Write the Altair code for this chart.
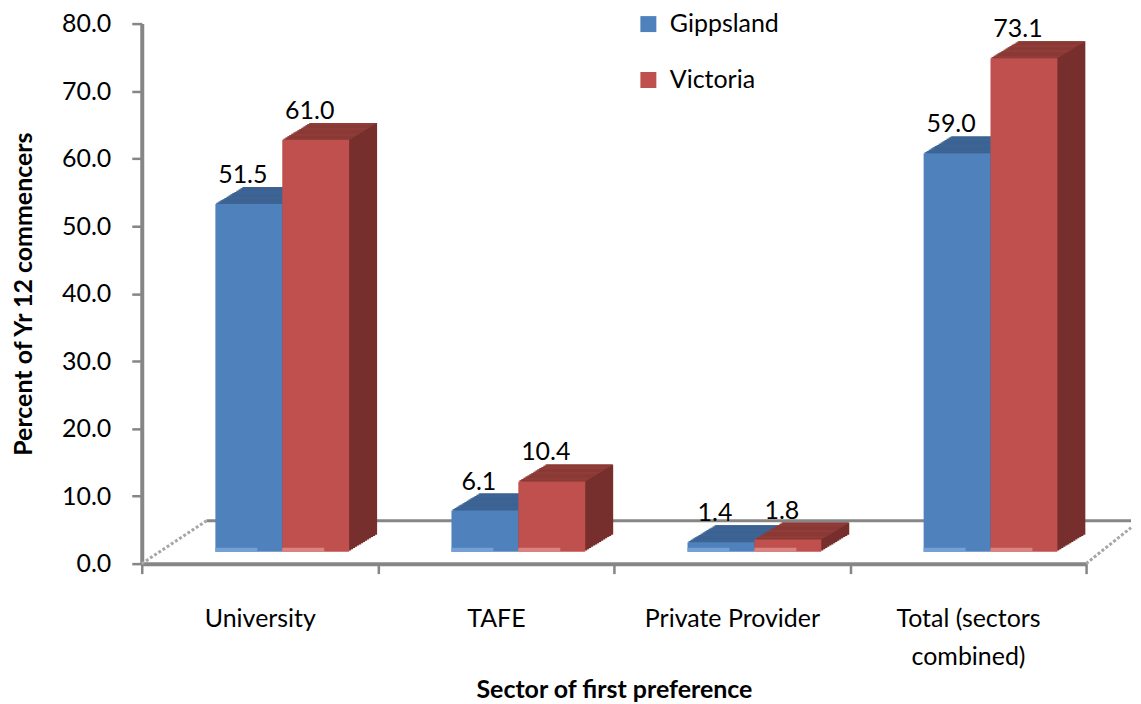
import altair as alt
import pandas as pd

categories = ["University", "TAFE", "Private Provider", "Total (sectors combined)"]
series_names = ["Gippsland", "Victoria"]
gippsland = [51.5, 6.1, 1.4, 59.0]
victoria = [61.0, 10.4, 1.8, 73.1]
y_ticks = [0, 10, 20, 30, 40, 50, 60, 70, 80]

rows = []
for c, g, v in zip(categories, gippsland, victoria):
    rows.append({"sector": c, "series": "Gippsland", "value": g})
    rows.append({"sector": c, "series": "Victoria", "value": v})
df = pd.DataFrame(rows)

W, H = 946, 541
FONT = "Lato"
FS = 25
GRAY = "#868686"

front_col = {"Gippsland": "#4F81BD", "Victoria": "#C0504D"}
shine_col = {"Gippsland": "#74A0D6", "Victoria": "#D98481"}
top_col = {"Gippsland": "#3C6494", "Victoria": "#903C39"}
side_col = {"Gippsland": "#385D8A", "Victoria": "#772F2D"}
bar_dx = {"Gippsland": -11, "Victoria": 56}
lab_dx = {"Gippsland": -17, "Victoria": 50}
BAR_W = 67
LIFT = 12     # front face sits slightly behind the axis plane
DEPX, DEPY, N = 28, 17, 14

base = alt.Chart(df)
xenc = alt.X(
    "sector:N",
    sort=categories,
    scale=alt.Scale(domain=categories, paddingInner=0, paddingOuter=0),
    axis=alt.Axis(
        title="Sector of first preference",
        labelAngle=0,
        tickBand="extent",
        labelExpr="datum.value == 'Total (sectors combined)' ? ['Total (sectors', 'combined)'] : datum.value",
        labelLineHeight=38,
        labelPadding=33,
        labelBaseline="top",
        titleY=126,
        titleBaseline="middle",
    ),
)
yenc = alt.Y(
    "value:Q",
    stack=None,
    scale=alt.Scale(domain=[0, 80], nice=False, zero=True),
    axis=alt.Axis(
        title="Percent of Yr 12 commencers",
        values=y_ticks,
        format=".1f",
        grid=False,
        labelPadding=21,
        titleX=-118,
        titleBaseline="middle",
    ),
)

layers = []

# floor decorations
floor = alt.Chart(pd.DataFrame({"z": [0]}))
layers.append(
    floor.mark_rule(color=GRAY, strokeWidth=3).encode(
        x=alt.value(65), x2=alt.value(991), y=alt.value(H - 43)
    )
)
layers.append(
    floor.mark_rule(color="#A6A6A6", strokeWidth=3, strokeDash=[3, 2]).encode(
        x=alt.value(0), x2=alt.value(65), y=alt.value(H), y2=alt.value(H - 43)
    )
)
layers.append(
    floor.mark_rule(color="#A6A6A6", strokeWidth=3, strokeDash=[3, 2]).encode(
        x=alt.value(W), x2=alt.value(991), y=alt.value(H), y2=alt.value(H - 36)
    )
)

for s in series_names:
    sub = base.transform_filter(alt.datum.series == s)
    # side / depth
    for k in range(1, N + 1):
        ox = bar_dx[s] + DEPX * k / N
        oy = -LIFT - DEPY * k / N
        layers.append(
            sub.mark_bar(size=BAR_W, xOffset=ox, yOffset=oy, y2Offset=oy, color=side_col[s]).encode(
                x=xenc, y=yenc, y2=alt.datum(0)
            )
        )
    # top face strips
    for k in range(1, N + 1):
        ox = bar_dx[s] + DEPX * (k - 0.5) / N
        oy1 = -LIFT - DEPY * k / N
        oy2 = -LIFT - DEPY * (k - 1) / N
        layers.append(
            sub.mark_bar(size=BAR_W, xOffset=ox, yOffset=oy1, y2Offset=oy2, color=top_col[s]).encode(
                x=xenc, y=yenc, y2=alt.Y2("value:Q")
            )
        )
    # front face
    layers.append(
        sub.mark_bar(size=BAR_W, xOffset=bar_dx[s], yOffset=-LIFT, y2Offset=-LIFT).encode(
            x=xenc,
            y=yenc,
            y2=alt.datum(0),
            color=alt.Color(
                "series:N",
                scale=alt.Scale(domain=series_names, range=[front_col[n] for n in series_names]),
                legend=alt.Legend(
                    title=None,
                    orient="none",
                    legendX=495,
                    legendY=-12,
                    symbolType="square",
                    symbolSize=256,
                    symbolStrokeWidth=0,
                    labelFont=FONT,
                    labelFontSize=FS,
                    labelColor="black",
                    labelOffset=9,
                    rowPadding=30,
                ),
            ),
        )
    )
    # light reflection strip at the foot of the front face
    layers.append(
        sub.mark_bar(size=42, xOffset=bar_dx[s] - 12.5, yOffset=-LIFT - 4, y2Offset=-LIFT, color=shine_col[s]).encode(
            x=xenc, y=alt.datum(0), y2=alt.datum(0)
        )
    )

for s in series_names:
    sub = base.transform_filter(alt.datum.series == s)
    layers.append(
        sub.mark_text(dx=lab_dx[s], dy=-LIFT - 21, baseline="alphabetic", font=FONT, fontSize=FS, color="black").encode(
            x=xenc, y=yenc, text=alt.Text("value:Q", format=".1f")
        )
    )

chart = (
    alt.layer(*layers)
    .properties(width=W, height=H, padding={"left": 4, "top": 3, "right": 0, "bottom": 0})
    .configure_view(stroke=None)
    .configure_axis(
        domainColor=GRAY,
        domainWidth=4,
        tickColor=GRAY,
        tickWidth=2.5,
        tickSize=10,
        labelFont=FONT,
        labelFontSize=FS,
        labelColor="black",
        titleFont=FONT,
        titleFontSize=FS,
        titleFontWeight="bold",
        titleColor="black",
    )
)

chart.save("out.html", embed_options={"renderer": "svg", "actions": False})
